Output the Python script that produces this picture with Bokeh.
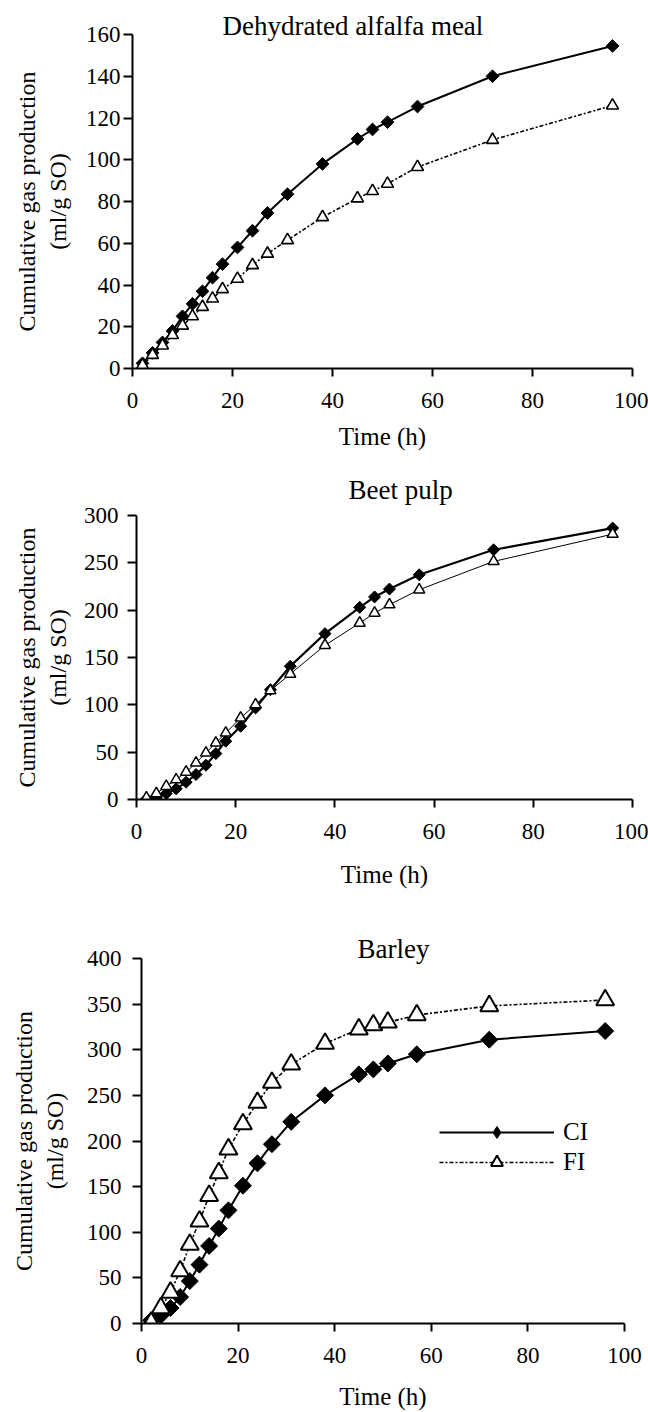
import math
from bokeh.plotting import figure
from bokeh.models import Legend, LegendItem, FixedTicker, Range1d
from bokeh.layouts import column
from bokeh.embed import file_html
from bokeh.resources import INLINE

# ---------------- data ----------------
hours = [2, 4, 6, 8, 10, 12, 14, 16, 18, 21, 24, 27, 31, 38, 45, 48, 51, 57, 72, 96]

alfalfa_ci = [2.5, 7.5, 12.5, 18, 25, 31, 37, 43.5, 50, 58, 66, 74.5, 83.5, 98, 110, 114.5, 118, 125.5, 140, 154.5]
alfalfa_fi = [1.5, 6.5, 11, 16, 20.5, 25, 29.5, 33.5, 38, 43, 49.5, 55, 61.5, 72.5, 81.5, 85, 88.5, 96.5, 109.5, 126]

beet_ci = [0.5, 2, 6.3, 11.3, 18.3, 26.4, 36.2, 48.5, 61.6, 77.4, 96.7, 116, 140.7, 175.2, 203, 214, 222.3, 237.4, 263.8, 286.7]
beet_fi = [1.8, 6.3, 14, 21, 29, 38.7, 49.2, 59.8, 70.3, 86.2, 100.2, 115, 132.6, 162.9, 186.4, 197, 205.8, 221.6, 251.5, 280.3]

barley_ci = [3.5, 9, 17, 29, 46.5, 64.5, 85, 104, 124, 151, 175.5, 196.5, 221, 250, 273, 278.5, 285, 295, 311, 320.5]
barley_fi = [1, 17, 34, 57.5, 86.5, 112, 140, 165, 191, 218.5, 242, 264, 284, 306.8, 322.5, 327, 330, 338, 348, 354.5]

x_ticks = [0, 20, 40, 60, 80, 100]
alfalfa_y_ticks = [0, 20, 40, 60, 80, 100, 120, 140, 160]
beet_y_ticks = [0, 50, 100, 150, 200, 250, 300]
barley_y_ticks = [0, 50, 100, 150, 200, 250, 300, 350, 400]

titles = ["Dehydrated alfalfa meal", "Beet pulp", "Barley"]
y_label = "Cumulative gas production\n(ml/g SO)"
x_label = "Time (h)"
series_names = ["CI", "FI"]

FONT = "Liberation Serif"
NAN = float("nan")
PAGE_W = 648


def panel(title, y_ticks, ci, fi, g, st, legend_at=None):
    x0, x100, y0, ytop_px = g["x0"], g["x100"], g["y0"], g["ytop_px"]
    top, h = g["top"], g["h"]
    p = figure(width=PAGE_W, height=h,
               x_range=Range1d(0, 100), y_range=Range1d(0, y_ticks[-1]),
               output_backend="svg", toolbar_location=None, title=title,
               min_border_left=x0, min_border_right=PAGE_W - x100,
               min_border_top=ytop_px - top,
               min_border_bottom=top + h - y0)
    p.frame_align = False
    p.outline_line_color = None
    p.grid.visible = False
    p.background_fill_color = "white"
    p.border_fill_color = "white"

    p.title.text_font = FONT
    p.title.text_font_size = "27px"
    p.title.text_font_style = "normal"
    p.title.text_color = "black"
    p.title.align = "left"
    p.title.offset = g["title_left"] - x0
    p.title.standoff = g["title_standoff"]

    for ax, ticks in ((p.xaxis, x_ticks), (p.yaxis, y_ticks)):
        ax.ticker = FixedTicker(ticks=ticks)
        ax.axis_line_width = 2
        ax.axis_line_color = "black"
        ax.major_tick_line_width = 2
        ax.major_tick_line_color = "black"
        ax.major_tick_in = 0
        ax.minor_tick_line_color = None
        ax.major_label_text_font = FONT
        ax.major_label_text_font_size = "23px"
        ax.major_label_text_color = "black"
        ax.axis_label_text_font = FONT
        ax.axis_label_text_font_style = "normal"
        ax.axis_label_text_color = "black"
    p.xaxis.major_tick_out = 8
    p.xaxis.major_label_standoff = 16
    p.xaxis.axis_label = x_label
    p.xaxis.axis_label_text_font_size = "25px"
    p.xaxis.axis_label_standoff = g["xlab_standoff"]
    p.yaxis.major_tick_out = 9
    p.yaxis.major_label_standoff = g["ytick_standoff"]
    p.yaxis.axis_label = y_label
    p.yaxis.axis_label_text_font_size = "24px"
    p.yaxis.axis_label_standoff = g["ylab_standoff"]

    # series
    ci_line = p.line(hours, ci, line_color="black", line_width=st["ci_w"])
    p.scatter(hours, ci, marker="square", angle=math.pi / 4, size=st["ci_size"],
              fill_color="black", line_color="black", line_width=1)
    fi_line = p.line(hours, fi, line_color="black", line_width=st["fi_w"], line_dash=st["fi_dash"])
    p.scatter(hours, fi, marker="triangle", size=st["fi_size"],
              fill_color="white", line_color="black", line_width=st["tri_w"])

    if legend_at is not None:
        lx, ly_row1 = legend_at
        # legend-only marker keys (a single NaN entry, nothing is drawn in the plot)
        ci_key = p.scatter(x=[NAN], y=[NAN], marker="diamond", fill_color="black",
                           line_color="black", line_width=1)
        fi_key = p.scatter(x=[NAN], y=[NAN], marker="triangle", fill_color="white",
                           line_color="black", line_width=st["tri_w"])
        row_h = 30.0
        leg_top = ly_row1 - row_h / 2
        leg = Legend(items=[LegendItem(label=series_names[0], renderers=[ci_line, ci_key]),
                            LegendItem(label=series_names[1], renderers=[fi_line, fi_key])],
                     location=(lx - x0, y0 - (leg_top + 2 * row_h)),
                     glyph_width=115, glyph_height=30, label_height=30,
                     label_standoff=9, spacing=0, padding=0, margin=0,
                     border_line_color=None, background_fill_alpha=0,
                     label_text_font=FONT, label_text_font_size="25px",
                     label_text_color="black")
        p.add_layout(leg)
    return p


g1 = dict(x0=132, x100=632, y0=368, ytop_px=34, top=0, h=460,
          title_left=222, title_standoff=-12, xlab_standoff=12,
          ytick_standoff=3, ylab_standoff=12)
g2 = dict(x0=136, x100=632, y0=799, ytop_px=515, top=460, h=445,
          title_left=348, title_standoff=22, xlab_standoff=19,
          ytick_standoff=9, ylab_standoff=10)
g3 = dict(x0=141, x100=624, y0=1323, ytop_px=958, top=905, h=507,
          title_left=357, title_standoff=-10, xlab_standoff=17,
          ytick_standoff=11, ylab_standoff=16)

s1 = dict(ci_w=2, ci_size=9, fi_w=1.6, fi_dash="4 2 2 2", fi_size=12, tri_w=1.6)
s2 = dict(ci_w=2.2, ci_size=8.5, fi_w=1, fi_dash="solid", fi_size=11, tri_w=1.5)
s3 = dict(ci_w=2, ci_size=12, fi_w=1.6, fi_dash="4 2 2 2", fi_size=18, tri_w=2)

p1 = panel(titles[0], alfalfa_y_ticks, alfalfa_ci, alfalfa_fi, g1, s1)
p2 = panel(titles[1], beet_y_ticks, beet_ci, beet_fi, g2, s2)
p3 = panel(titles[2], barley_y_ticks, barley_ci, barley_fi, g3, s3, legend_at=(439, 1132))

layout = column(p1, p2, p3, spacing=0)
open("out.html", "w").write(file_html(layout, INLINE))
